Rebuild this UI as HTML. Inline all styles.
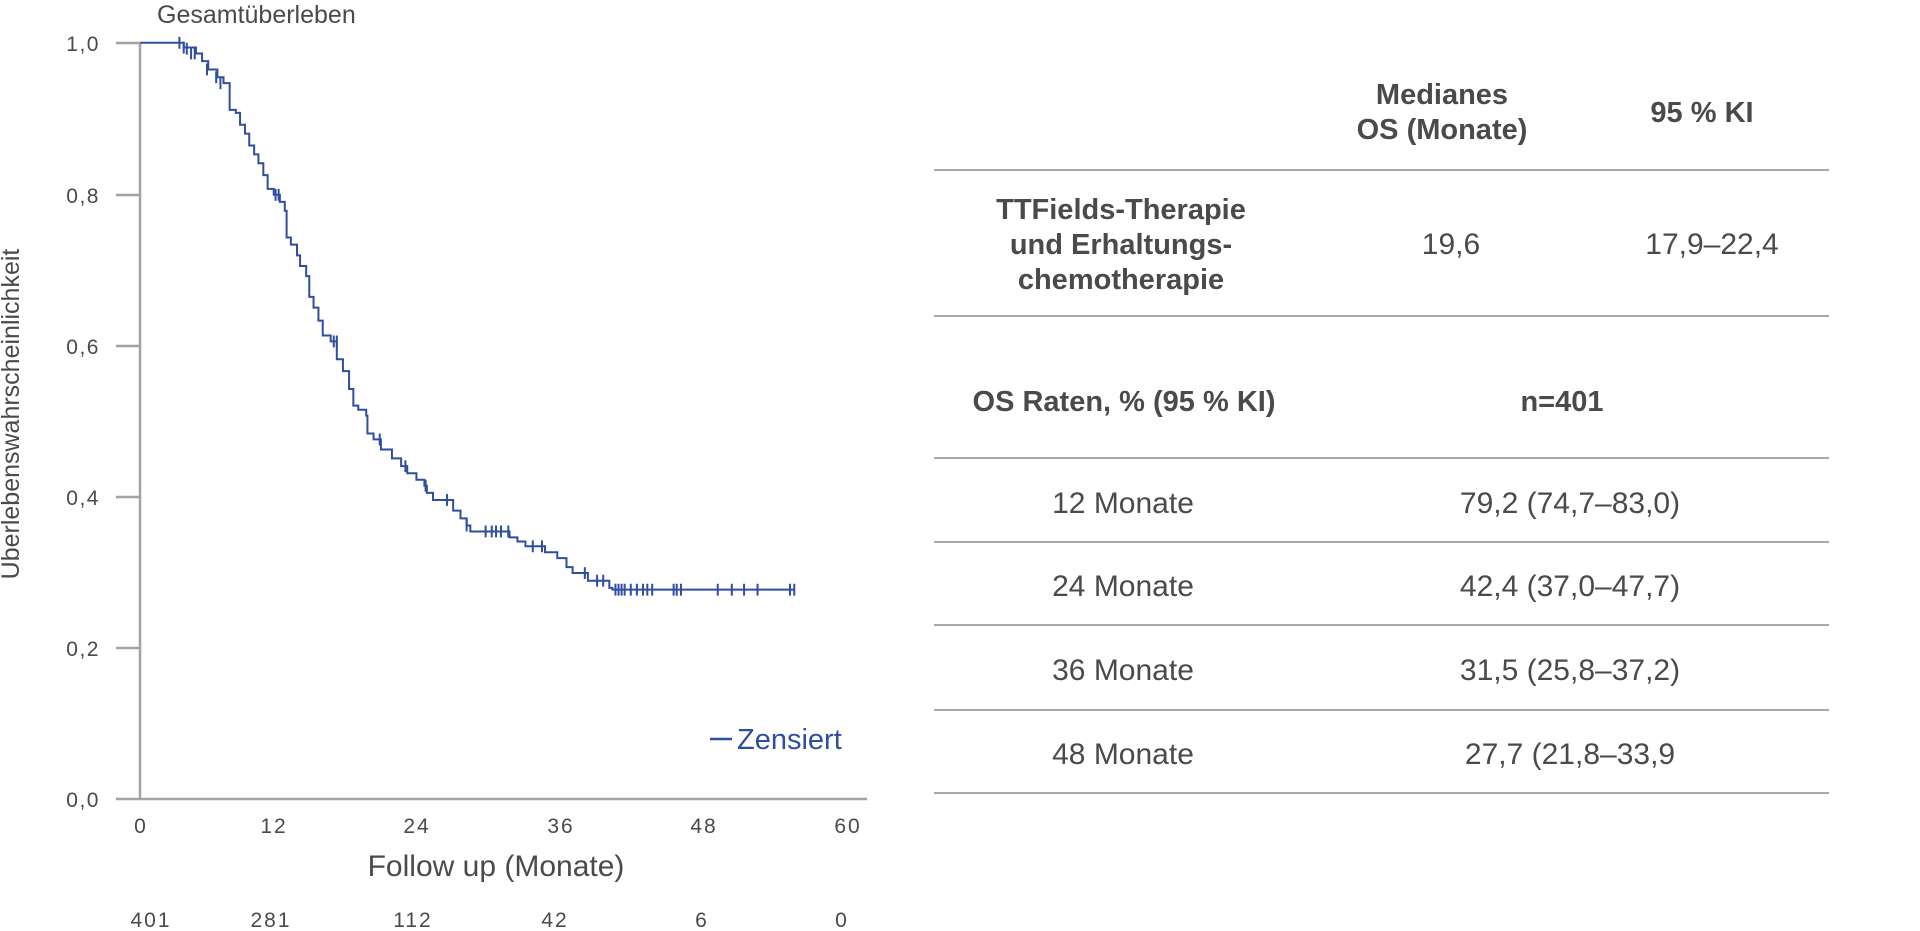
<!DOCTYPE html>
<html><head><meta charset="utf-8"><style>
html,body{margin:0;padding:0;background:#fff;}
svg{display:block;}
text{font-family:"Liberation Sans",sans-serif;fill:#4a4a4a;}
</style></head><body>
<svg width="1920" height="931" viewBox="0 0 1920 931" xmlns="http://www.w3.org/2000/svg">
<g stroke="#a3a3a3" stroke-width="2.5" fill="none">
<line x1="140" y1="43" x2="140" y2="799"/>
<line x1="116" y1="799" x2="867" y2="799"/>
<line x1="116" y1="43" x2="140" y2="43"/>
<line x1="116" y1="195" x2="140" y2="195"/>
<line x1="116" y1="346" x2="140" y2="346"/>
<line x1="116" y1="497" x2="140" y2="497"/>
<line x1="116" y1="648" x2="140" y2="648"/>
</g>
<text x="157" y="23" font-size="25">Gesamtüberleben</text>
<g font-size="21" text-anchor="end" letter-spacing="1.5">
<text x="100" y="51">1,0</text>
<text x="100" y="203">0,8</text>
<text x="100" y="354">0,6</text>
<text x="100" y="505">0,4</text>
<text x="100" y="656">0,2</text>
<text x="100" y="807">0,0</text>
</g>
<text transform="translate(19,414) rotate(-90)" font-size="25" text-anchor="middle">Überlebenswahrscheinlichkeit</text>
<g font-size="21" text-anchor="middle" letter-spacing="2">
<text x="141" y="833">0</text>
<text x="274" y="833">12</text>
<text x="417" y="833">24</text>
<text x="561" y="833">36</text>
<text x="704" y="833">48</text>
<text x="848" y="833">60</text>
</g>
<text x="496" y="876" font-size="30" text-anchor="middle">Follow up (Monate)</text>
<g font-size="21" text-anchor="middle" letter-spacing="2">
<text x="151" y="927">401</text>
<text x="271" y="927">281</text>
<text x="413" y="927">112</text>
<text x="555" y="927">42</text>
<text x="702" y="927">6</text>
<text x="842" y="927">0</text>
</g>
<g transform="scale(0.6124,0.5938)" stroke="#2f4ea0" stroke-width="2" fill="none">
<path vector-effect="non-scaling-stroke" d="M229,72 H300 V80 H320 V90 H330 V103 H340 V117 H355 V130 H365 V140 H375 V155 V185 H385 V190 H392 V210 H400 V225 H407 V245 H415 V260 H422 V275 H430 V295 H437 V318 H447 V328 H457 V340 H465 V355 H468 V400 H475 V412 H485 V430 H490 V448 H500 V465 H505 V500 H512 V518 H520 V540 H527 V565 H540 V575 H550 V605 H560 V625 H570 V655 H577 V683 H585 V690 H598 V700 H600 V730 H610 V740 H622 V757 H640 V772 H655 V785 H665 V797 H680 V808 H693 V818 H697 V830 H707 V842 H740 V860 H752 V873 H762 V885 H768 V895 H832 V905 H845 V912 H858 V920 H890 V930 H910 V940 H925 V955 H935 V965 H960 V978 H995 V990 H1000 V993 H1297"/>
<path vector-effect="non-scaling-stroke" d="M293,62V82 M300,70V90 M305,72V92 M312,80V100 M318,80V100 M338,107V127 M353,120V140 M360,130V150 M450,318V338 M455,318V338 M545,565V585 M550,565V585 M620,730V750 M662,775V795 M695,808V828 M730,832V852 M762,875V895 M793,885V905 M803,885V905 M810,885V905 M818,885V905 M830,885V905 M870,910V930 M885,910V930 M955,955V975 M975,968V988 M985,968V988 M1005,983V1003 M1010,983V1003 M1015,983V1003 M1020,983V1003 M1030,983V1003 M1040,983V1003 M1050,983V1003 M1057,983V1003 M1065,983V1003 M1100,983V1003 M1105,983V1003 M1112,983V1003 M1172,983V1003 M1195,983V1003 M1215,983V1003 M1237,983V1003 M1290,983V1003 M1297,983V1003"/>
</g>
<line x1="710" y1="739" x2="732" y2="739" stroke="#2f4ea0" stroke-width="2.5"/>
<text x="737" y="749" font-size="29" style="fill:#2f4ea0">Zensiert</text>
<g stroke="#a8a8a8" stroke-width="2">
<line x1="934" y1="170" x2="1829" y2="170"/>
<line x1="934" y1="316" x2="1829" y2="316"/>
<line x1="934" y1="458" x2="1829" y2="458"/>
<line x1="934" y1="542" x2="1829" y2="542"/>
<line x1="934" y1="625" x2="1829" y2="625"/>
<line x1="934" y1="710" x2="1829" y2="710"/>
<line x1="934" y1="793" x2="1829" y2="793"/>
</g>
<g font-size="29" font-weight="bold" text-anchor="middle">
<text x="1442" y="104">Medianes</text>
<text x="1442" y="139">OS (Monate)</text>
<text x="1702" y="122">95 % KI</text>
<text x="1121" y="219">TTFields-Therapie</text>
<text x="1121" y="254">und Erhaltungs-</text>
<text x="1121" y="289">chemotherapie</text>
<text x="1124" y="411">OS Raten, % (95 % KI)</text>
<text x="1562" y="411">n=401</text>
</g>
<g font-size="30" text-anchor="middle">
<text x="1451" y="254">19,6</text>
<text x="1712" y="254">17,9–22,4</text>
<text x="1123" y="513">12 Monate</text>
<text x="1570" y="513">79,2 (74,7–83,0)</text>
<text x="1123" y="596">24 Monate</text>
<text x="1570" y="596">42,4 (37,0–47,7)</text>
<text x="1123" y="680">36 Monate</text>
<text x="1570" y="680">31,5 (25,8–37,2)</text>
<text x="1123" y="764">48 Monate</text>
<text x="1570" y="764">27,7 (21,8–33,9</text>
</g>
</svg>
</body></html>
